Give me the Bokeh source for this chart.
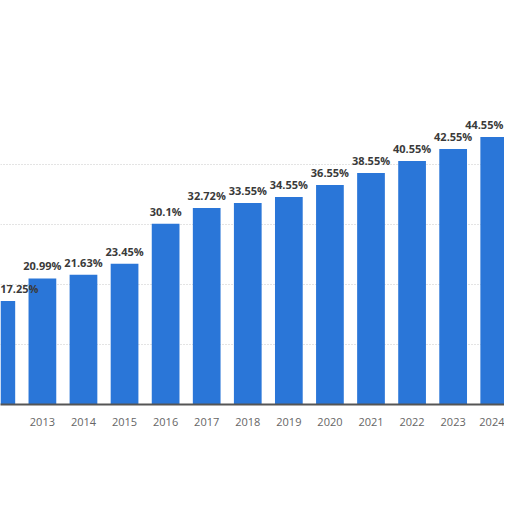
from bokeh.plotting import figure
from bokeh.models import ColumnDataSource, FixedTicker, Range1d
from bokeh.core.properties import value
from bokeh.embed import file_html
from bokeh.resources import INLINE

years = [2012, 2013, 2014, 2015, 2016, 2017, 2018, 2019, 2020, 2021, 2022, 2023, 2024]
shares = [17.25, 20.99, 21.63, 23.45, 30.1, 32.72, 33.55, 34.55, 36.55, 38.55, 40.55, 42.55, 44.55]
labels = ["17.25%", "20.99%", "21.63%", "23.45%", "30.1%", "32.72%", "33.55%",
          "34.55%", "36.55%", "38.55%", "40.55%", "42.55%", "44.55%"]
grid_ticks = [10, 20, 30, 40]

# keep the edge labels inside the canvas
shift = [0] * len(years)
shift[0] = 18
shift[-1] = -10

src = ColumnDataSource(dict(x=years, top=shares, label=labels, dx=shift))

p = figure(width=504, height=504, output_backend="svg", toolbar_location=None,
           x_range=Range1d(2011.98, 2024.25), y_range=Range1d(0, 67.3),
           min_border_left=0, min_border_right=0, min_border_top=0,
           min_border_bottom=100)
p.outline_line_color = None
p.background_fill_color = "white"
p.border_fill_color = "white"

p.vbar(x="x", top="top", bottom=0, width=0.675, source=src,
       fill_color="#2a76d8", line_color=None)
p.text(x="x", y="top", text="label", source=src, y_offset=-5, x_offset="dx",
       text_align="center", text_baseline="bottom",
       text_font=value("Open Sans"), text_font_style="bold",
       text_font_size="11px", text_color="#3a3a3a")

p.xaxis.ticker = FixedTicker(ticks=years[1:])
p.xaxis.major_tick_line_color = None
p.xaxis.minor_tick_line_color = None
p.xaxis.axis_line_color = "#555555"
p.xaxis.axis_line_width = 2
p.xaxis.major_label_text_font = "Open Sans"
p.xaxis.major_label_text_font_size = "11px"
p.xaxis.major_label_text_color = "#666666"
p.xaxis.major_label_standoff = 7

p.yaxis.visible = False
p.yaxis.ticker = FixedTicker(ticks=grid_ticks)
p.ygrid.ticker = FixedTicker(ticks=grid_ticks)
p.ygrid.grid_line_color = "#c8c8c8"
p.ygrid.grid_line_dash = "1 2"
p.xgrid.grid_line_color = None

open("out.html", "w").write(file_html(p, INLINE))
